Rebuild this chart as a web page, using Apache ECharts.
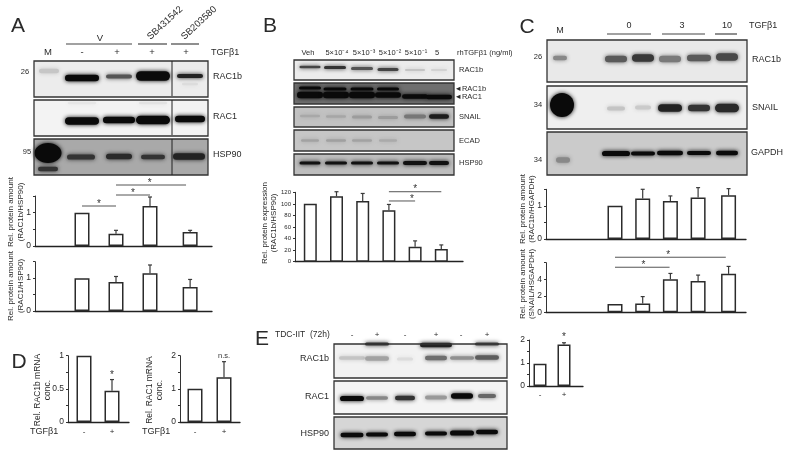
<!DOCTYPE html>
<html><head><meta charset="utf-8">
<style>html,body{margin:0;padding:0;background:#fff}#c{width:792px;height:459px;filter:blur(.45px)}</style>
<script src="https://cdn.jsdelivr.net/npm/echarts@6/dist/echarts.min.js"></script></head>
<body><div id="c"></div>
<script>
// ---- chart values ----
const a1Lanes=[1,2,3,4.18], a1Values=[1,.37,1.2,.42], a1Tops=[1,.47,1.47,.47];
const a2Values=[1,.88,1.15,.73], a2Tops=[1,1.05,1.4,.96];
const bLanes=[1,2,3,4,5,6], bValues=[100,113,105,89,26,22], bTops=[100,121,118,99,36,29];
const cLanes=[1,2,3,4,5.1], c1Values=[1,1.22,1.15,1.25,1.32], c1Tops=[1,1.5,1.3,1.55,1.52];
const c2Values=[1,1.05,4,3.8,4.65], c2Tops=[1,1.9,4.7,4.5,5.55];
const dLanes=[1,2], d1Values=[1,.47], d1Tops=[1,.64], d2Values=[1,1.35], d2Tops=[1,1.82];
const eValues=[.97,1.8], eTops=[.97,1.88];
// significance rows: lane from, lane to, height, star position along the line
const a1Sig=[[1,2,1.2,.5,'*'],[2,3,1.53,.5,'*'],[2,4.06,1.83,.48,'*']];
const bSig=[[4,5,105,.88,'*'],[4,6,121,.5,'*']];
const c2Sig=[[1,2.97,5.45,.52,'*'],[1,5,6.66,.48,'*']];
const d1Sig=[[2,2,.68,.5,'*']], d2Sig=[[2,2,1.87,.5,'n.s.']], eSig=[[2,2,2.04,.5,'*']];
// tick labels
const ticksA=[0,1], ticksB=[0,20,40,60,80,100,120], ticksC2=[0,2,4], ticksD1=[0,.5,1], ticksD2=[0,1,2];

const FONT='"Liberation Sans",Arial,sans-serif', INK='#2a2a2a';
const grids=[],xAxes=[],yAxes=[],series=[];
function chart(o){
  const i=grids.length;
  const w=o.right-o.left,h=o.zero-o.top,p=o.pitch;
  grids.push({left:o.left,top:o.top,width:w,height:h});
  xAxes.push({gridIndex:i,type:'value',min:1-(o.lane1-o.left)/p,max:1+(o.right-o.lane1)/p,
    splitLine:{show:false},axisTick:{show:false},axisLabel:{show:false},
    axisLine:{show:true,onZero:false,lineStyle:{color:'#222',width:1.3}}});
  yAxes.push({gridIndex:i,type:'value',min:0,max:o.max,interval:o.step,splitLine:{show:false},
    axisLine:{show:true,onZero:false,lineStyle:{color:'#333',width:1}},
    axisTick:{show:true,length:2,lineStyle:{color:'#333',width:1}},
    axisLabel:{fontFamily:FONT,fontSize:o.font||8.5,color:INK,margin:4,hideOverlap:false,showMinLabel:true,showMaxLabel:true,
      formatter:v=>o.labels.some(t=>Math.abs(t-v)<1e-6)?String(v):''}});
  series.push({type:'bar',xAxisIndex:i,yAxisIndex:i,barWidth:o.bar,silent:true,animation:false,
    itemStyle:{color:'#fff',borderColor:'#2b2b2b',borderWidth:1.5},
    data:o.lanes.map((x,k)=>[x,o.values[k]])});
  series.push({type:'custom',xAxisIndex:i,yAxisIndex:i,silent:true,animation:false,
    data:o.lanes.map((x,k)=>[x,o.tops[k],o.values[k]]).filter(r=>r[1]>r[2]),
    renderItem:(pm,api)=>{
      const t=api.coord([api.value(0),api.value(1)]),b=api.coord([api.value(0),api.value(2)]);
      const st={stroke:'#3a3a3a',lineWidth:1.2,fill:null};
      return {type:'group',children:[
        {type:'line',shape:{x1:t[0],y1:t[1],x2:b[0],y2:b[1]},style:st},
        {type:'line',shape:{x1:t[0]-2,y1:t[1],x2:t[0]+2,y2:t[1]},style:st}]};
    }});
  if(o.sig) series.push({type:'custom',xAxisIndex:i,yAxisIndex:i,silent:true,animation:false,
    data:o.sig.map(r=>r.slice(0,4)),
    renderItem:(pm,api)=>{
      const a=api.coord([api.value(0),api.value(2)]),b=api.coord([api.value(1),api.value(2)]);
      const f=api.value(3),txt=o.sig[pm.dataIndex][4],kids=[];
      if(b[0]>a[0]) kids.push({type:'line',shape:{x1:a[0],y1:a[1],x2:b[0],y2:b[1]},style:{stroke:'#555',lineWidth:1,fill:null}});
      kids.push({type:'text',style:{text:txt,x:a[0]+(b[0]-a[0])*f,y:a[1]+(txt==='*'?-2:-4),fontFamily:FONT,fontSize:txt==='*'?10:7.5,
        fill:'#333',textAlign:'center',textVerticalAlign:'middle'}});
      return {type:'group',children:kids};
    }});
}
chart({left:35,right:212,top:196,zero:246,lane1:82,pitch:34,max:1.5,step:.5,labels:ticksA,bar:15,lanes:a1Lanes,values:a1Values,tops:a1Tops,sig:a1Sig});
chart({left:35,right:212,top:261.7,zero:311,lane1:82,pitch:34,max:1.5,step:.5,labels:ticksA,bar:15,lanes:a1Lanes,values:a2Values,tops:a2Tops});
chart({left:295,right:463,top:192.3,zero:261.7,lane1:310.3,pitch:26.2,max:120,step:20,labels:ticksB,font:6,bar:13,lanes:bLanes,values:bValues,tops:bTops,sig:bSig});
chart({left:546,right:746,top:189.3,zero:239,lane1:615,pitch:27.7,max:1.5,step:.5,labels:ticksA,bar:15,lanes:cLanes,values:c1Values,tops:c1Tops});
chart({left:546,right:746,top:262.7,zero:312.3,lane1:615,pitch:27.7,max:6,step:2,labels:ticksC2,bar:15,lanes:cLanes,values:c2Values,tops:c2Tops,sig:c2Sig});
chart({left:68,right:129,top:355.7,zero:422,lane1:84,pitch:28,max:1,step:.25,labels:ticksD1,font:8.5,bar:15,lanes:dLanes,values:d1Values,tops:d1Tops,sig:d1Sig});
chart({left:180,right:240,top:355.7,zero:422,lane1:195,pitch:29,max:2,step:.5,labels:ticksD2,font:8.5,bar:15,lanes:dLanes,values:d2Values,tops:d2Tops,sig:d2Sig});
chart({left:529,right:583,top:340,zero:386,lane1:540,pitch:24,max:2,step:.5,labels:ticksD2,font:8.5,bar:13,lanes:dLanes,values:eValues,tops:eTops,sig:eSig});

// ---- blot panels: appearance only ----
const g=[];
function band(x,y,w,h,c,blur){const H=h+1.6,W=w+2;g.push({type:'rect',z:2,shape:{x:x-W/2,y:y-H/2,width:W,height:H,r:H/2},
  style:{fill:c,shadowBlur:blur==null?4:blur,shadowColor:c}});}
function disc(x,y,r,c,blur){g.push({type:'circle',z:2,shape:{cx:x,cy:y,r},style:{fill:c,shadowBlur:blur==null?3:blur,shadowColor:c}});}
function panel(x,y,w,h,bg,bands){
  g.push({type:'rect',z:1,shape:{x,y,width:w,height:h},style:{fill:bg}});
  bands.forEach(b=>band.apply(null,b));
  g.push({type:'rect',z:4,shape:{x,y,width:w,height:h},style:{fill:null,stroke:'#333',lineWidth:1.3}});
}
function vline(x,y1,y2){g.push({type:'line',z:5,shape:{x1:x,y1,x2:x,y2},style:{stroke:'#222',lineWidth:1}});}
function hline(x1,x2,y){g.push({type:'line',z:5,shape:{x1,y1:y,x2,y2:y},style:{stroke:'#444',lineWidth:1.2}});}
const K='#0a0a0a';
// A
panel(34,61,174,36,'#ececec',[[49,71,18,3,'#c6c6c6',4],[82,78,32,5,K],[119,76.5,24,2.5,'#555'],[153,76,32,8,K],[190,76,24,2.5,'#222'],[190,84,14,1,'#dcdcdc']]);
panel(34,100,174,36,'#f3f3f3',[[82,103,26,1,'#e6e6e6'],[153,103,26,1,'#e2e2e2'],[82,121,32,6,K],[119,120,30,5,K],[153,120,32,7,K],[190,119,28,5,K]]);
panel(34,139,174,36,'#a9a9a9',[[81,157,26,3.5,'#333'],[119,156.5,24,4,'#2a2a2a'],[153,157,22,3,'#333'],[189,156.5,30,5,'#222'],[48,169,18,3,'#333']]);
g.push({type:'ellipse',z:3,shape:{cx:48,cy:153,rx:13.5,ry:10},style:{fill:K,shadowBlur:4,shadowColor:K}});
vline(172,61,96);vline(172,100,135);vline(172,139,175);
hline(66,132,44);hline(138,167,44);hline(171,199,44);
// B
panel(294,60,160,20,'#ececec',[[310,67,19,1,'#444'],[335,67.5,20,1.5,'#333'],[362,68.5,20,1.5,'#555'],[388,69.5,19,1.5,'#444'],[415,70,18,.5,'#c4c4c4'],[439,70,14,.5,'#d2d2d2']]);
panel(294,83,160,21,'#6f6f6f',[[310,88,20,1.5,K],[335,89,21,1.5,K],[362,89,21,1.5,K],[388,89,20,1.5,K],[310,95,24,5,K],[336,95,24,5,K],[362,95,24,5,K],[388,95,24,4,K],[415,96.5,24,3,K],[439,97,24,3,K]]);
panel(294,107,160,20,'#c2c2c2',[[310,116,18,1,'#a8a8a8'],[336,116.5,18,1,'#a6a6a6'],[362,117,18,1.5,'#9c9c9c'],[388,117.5,18,1.5,'#9c9c9c'],[415,116.5,20,2.5,'#777'],[439,116.5,18,3,'#1c1c1c']]);
panel(294,130,160,21,'#c6c6c6',[[310,140.5,16,1,'#a2a2a2'],[336,140.5,18,1,'#a0a0a0'],[362,140.5,18,1,'#a2a2a2'],[388,140.5,16,1,'#aaa']]);
panel(294,154,160,21,'#bdbdbd',[[310,163,19,1.5,'#111'],[336,163,20,1.5,'#111'],[362,163,20,1.5,'#111'],[388,163,20,1.5,'#111'],[415,163,22,2.5,'#111'],[439,163,18,2.5,'#111']]);
// C
panel(547,40,200,42,'#e9e9e9',[[560,58,12,3,'#888'],[616,59,20,5,'#5a5a5a'],[643,58,20,6,'#383838'],[670,59,20,5,'#7a7a7a'],[699,58,22,5,'#5a5a5a'],[727,57,20,6,'#484848']]);
panel(547,86,200,43,'#efefef',[[616,108.5,16,2.5,'#c4c4c4'],[643,107.5,14,2.5,'#cacaca'],[670,108,22,6,'#222'],[699,108,20,5,'#333'],[727,108,22,7,'#2a2a2a']]);
disc(562,105,12,K,4);
panel(547,132,200,43,'#cbcbcb',[[563,160,12,4,'#888'],[616,153.5,26,3.5,K],[643,153.5,22,2.5,K],[670,153,24,3,K],[699,153,22,2.5,K],[727,153,20,3,K]]);
hline(607,651,34);hline(662,705,34);hline(715,737,34);
// E
panel(334,344,173,34,'#f2f2f2',[[377,344,22,1.5,'#333'],[436,345,30,3,'#222'],[487,344,22,1.5,'#444'],[352,358,24,2,'#c4c4c4'],[377,358.5,22,3,'#a2a2a2'],[405,359,14,1.5,'#dcdcdc'],[436,358,20,3,'#6e6e6e'],[462,358,22,2,'#909090'],[487,357.5,22,3,'#5c5c5c']]);
panel(334,381,173,33,'#f4f4f4',[[352,398.5,22,3.5,K],[377,398,20,2,'#888'],[405,398,18,3,'#333'],[436,397.5,20,2.5,'#999'],[462,396,20,4,K],[487,396,16,2.5,'#666']]);
panel(334,417,173,32,'#d6d6d6',[[352,435,21,3,K],[377,434.5,20,2.5,K],[405,434,20,3,K],[436,433.5,20,2.5,K],[462,433,22,3.5,K],[487,432,20,3,K]]);

// ---- text: [string, x, y, size, align, rotation degrees] ----
const texts=[
['A',18,26,21],['B',270,26,21],['C',527,27,21],['D',19,362,21],['E',262,339,21],
['V',100,38,9.5],['M',48,52,9.5],['-',82,52,9.5],['+',117,52,9.5],['+',152,52,9.5],['+',186,52,9.5],['TGFβ1',211,53,9,'left'],
['SB431542',165,23,9.5,'center',43],['SB203580',199,23,9.5,'center',43],
['26',25,72,7.5],['95',27,152,7.5],['RAC1b',213,77,9,'left'],['RAC1',213,117,9,'left'],['HSP90',213,155,9,'left'],
['Rel. protein amount',11,212,8,'center',90],['(RAC1b/HSP90)',21,212,8,'center',90],
['Rel. protein amount',11,286,8,'center',90],['(RAC1/HSP90)',21,286,8,'center',90],
['Veh',308,53,7.5],['5×10⁻⁴',337,53,7.5],['5×10⁻³',364,53,7.5],['5×10⁻²',390,53,7.5],['5×10⁻¹',416,53,7.5],['5',437,53,7.5],
['rhTGFβ1 (ng/ml)',457,53,7.5,'left'],
['RAC1b',459,69.5,7.5,'left'],['◄RAC1b',454.5,89,7.5,'left'],['◄RAC1',454.5,97,7.5,'left'],['SNAIL',459,117,7.5,'left'],['ECAD',459,141,7.5,'left'],['HSP90',459,163,7.5,'left'],
['Rel. protein expression',265,223,8,'center',90],['(RAC1b/HSP90)',274,223,8,'center',90],
['M',560,31,9],['0',629,26,9],['3',682,26,9],['10',727,26,9],['TGFβ1',749,26,9,'left'],
['26',538,57,7.5],['34',538,105,7.5],['34',538,160,7.5],['RAC1b',752,60,9,'left'],['SNAIL',752,108,9,'left'],['GAPDH',751,153,9,'left'],
['Rel. protein amount',523,209,8,'center',90],['(RAC1b/HGAPDH)',532,209,8,'center',90],
['Rel. protein amount',523,284,8,'center',90],['(SNAIL/HSGAPDH)',532,284,8,'center',90],
['Rel. RAC1b mRNA',38,390,8.5,'center',90],['conc.',48,390,8.5,'center',90],['TGFβ1',30,432,9,'left'],['-',84,432,8],['+',112,432,8],
['Rel. RAC1 mRNA',150,390,8.5,'center',90],['conc.',160,390,8.5,'center',90],['TGFβ1',142,432,9,'left'],['-',195,432,8],['+',224,432,8],
['TDC-IIT  (72h)',275,335,8.5,'left'],['-',352,335,8],['+',377,335,8],['-',405,335,8],['+',436,335,8],['-',461,335,8],['+',487,335,8],
['RAC1b',329,359,9,'right'],['RAC1',329,397,9,'right'],['HSP90',329,434,9,'right'],['-',540,395,8],['+',564,395,8]
];
texts.forEach(t=>g.push({type:'text',z:6,x:t[1],y:t[2],rotation:(t[5]||0)*Math.PI/180,
  style:{text:t[0],x:0,y:0,fontFamily:FONT,fontSize:t[3],fill:INK,textAlign:t[4]||'center',textVerticalAlign:'middle'}}));

const ch=echarts.init(document.getElementById('c'),null,{renderer:'canvas'});
ch.setOption({animation:false,backgroundColor:'#fff',grid:grids,xAxis:xAxes,yAxis:yAxes,series,graphic:{elements:g}});
</script></body></html>
